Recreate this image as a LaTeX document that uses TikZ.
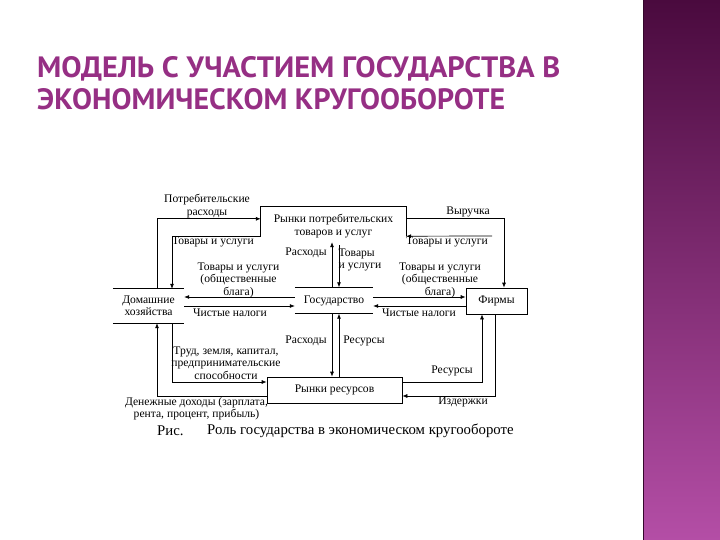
\documentclass[tikz,border=0pt]{standalone}
\usepackage{fontspec}
\usepackage{graphicx}
\setmainfont{Liberation Serif}
\newfontfamily\titlefont{PT Sans}
\usetikzlibrary{arrows.meta,calc}
\definecolor{titlecol}{HTML}{962F84}
\definecolor{barTop}{HTML}{4A0A3E}
\definecolor{barMid}{HTML}{7C2C6E}
\definecolor{barBot}{HTML}{B44EA6}
\begin{document}
\begin{tikzpicture}[x=1pt,y=-1pt,
  lbl/.style={font=\fontsize{11.6}{12.5}\selectfont, align=center, inner sep=0pt},
  ln/.style={line width=0.7pt},
  arr/.style={line width=0.7pt, -{Latex[length=5pt,width=4pt]}},
  openbox/.style={lbl, inner sep=0pt},
  closedbox/.style={lbl, draw, line width=0.7pt, inner sep=0pt}]
\useasboundingbox (0,0) rectangle (720,540);
\fill[white] (0,0) rectangle (720,540);
% side bar
\shade[top color=barTop, middle color=barMid, bottom color=barBot] (643,0) rectangle (720,540);
\draw[barTop!70!black, line width=1pt] (643.5,0) -- (643.5,540);
% title
\node[anchor=base west, inner sep=0pt, text=titlecol] (t1) at (37,78)
  {\resizebox{523pt}{21pt}{\titlefont\bfseries МОДЕЛЬ С УЧАСТИЕМ ГОСУДАРСТВА В}};
\node[anchor=base west, inner sep=0pt, text=titlecol] (t2) at (37,110)
  {\resizebox{468pt}{21pt}{\titlefont\bfseries ЭКОНОМИЧЕСКОМ КРУГООБОРОТЕ}};
% boxes
\node[openbox, minimum width=145pt, minimum height=29pt] (rpt) at (333.5,221.5) {};
\draw[ln] (rpt.south west) -- (rpt.north west) -- (rpt.north east) -- (rpt.south east);
\node[lbl] (rpttxt) at (333.5,226) {Рынки потребительских\\товаров и услуг};
\node[openbox, minimum width=71pt, minimum height=34pt] (dh) at (148.5,306) {Домашние\\хозяйства};
\draw[ln] (dh.north west) -- (dh.north east);
\draw[ln] (dh.south west) -- (dh.south east);
\node[openbox, minimum width=78pt, minimum height=26pt] (gos) at (334,300.5) {Государство};
\draw[ln] (gos.north west) -- (gos.north east);
\draw[ln] (gos.south west) -- (gos.south east);
\node[closedbox, minimum width=61pt, minimum height=26pt] (firm) at (496.5,301) {Фирмы};
\node[closedbox, minimum width=135pt, minimum height=26pt] (rr) at (334.5,390) {Рынки ресурсов};
% top loop
\draw[arr] ([xshift=8.5pt]dh.north) |- ([yshift=-12pt]rpt.north west);
\draw[arr] (rpt.south west) -| ([xshift=23.5pt]dh.north);
\draw[arr] ([yshift=-12pt]rpt.north east) -| ([xshift=7.5pt]firm.north);
\coordinate (tr) at (492,236);
\draw[arr] (tr) -- (rpt.south east);
% government verticals
\draw[arr] ([xshift=-2pt]gos.north) -- ([xshift=-1.5pt,yshift=-6pt]rpt.south);
\draw[arr] ([xshift=5.5pt,yshift=-9pt]rpt.south) -- ([xshift=5pt]gos.north);
\draw[arr] ([xshift=-2pt]gos.south) -- ([xshift=-2.5pt]rr.north);
\draw[arr] ([xshift=4.5pt]rr.north) -- ([xshift=5pt]gos.south);
% government horizontals
\coordinate (h1) at ([yshift=3.5pt]gos.west);
\coordinate (h2) at ([yshift=-5.5pt]gos.west);
\coordinate (h3) at ([yshift=3.5pt]gos.east);
\coordinate (h4) at ([yshift=-5.5pt]gos.east);
\draw[arr] (h1) -- (h1 -| dh.east);
\draw[arr] (h2 -| dh.east) -- (h2);
\draw[arr] (h3) -- (h3 -| firm.west);
\draw[arr] (h4 -| firm.west) -- (h4);
% bottom loop
\draw[arr] ([xshift=23.5pt]dh.south) |- ([yshift=8pt]rr.west);
\draw[arr] ([yshift=-6pt]rr.west) -| ([xshift=8.5pt]dh.south);
\draw[arr] ([yshift=8pt]rr.east) -| ([xshift=-14.5pt]firm.south);
\draw[arr] ([xshift=-1.5pt]firm.south) |- ([yshift=-6pt]rr.east);
% labels
\node[lbl] (l1) at (207,206) {Потребительские\\расходы};
\node[lbl] (l2) at (213,242) {Товары и услуги};
\node[lbl] (l3) at (468,212) {Выручка};
\node[lbl] (l4) at (447,242) {Товары и услуги};
\node[lbl] (l5) at (306,253) {Расходы};
\node[lbl, align=left] (l6) at (360,260) {Товары\\и услуги};
\node[lbl] (l7) at (238.5,280) {Товары и услуги\\(общественные\\блага)};
\node[lbl] (l8) at (440,280) {Товары и услуги\\(общественные\\блага)};
\node[lbl] (l9) at (230,313) {Чистые налоги};
\node[lbl] (l10) at (419,313) {Чистые налоги};
\node[lbl] (l11) at (306,341) {Расходы};
\node[lbl] (l12) at (364,341) {Ресурсы};
\node[lbl] (l13) at (226,363) {Труд, земля, капитал,\\предпринимательские\\способности};
\node[lbl] (l14) at (452,371) {Ресурсы};
\node[lbl] (l15) at (463,402) {Издержки};
\node[lbl] (l16) at (196.5,408.5) {Денежные доходы (зарплата,\\рента, процент, прибыль)};
\node[anchor=west, inner sep=0pt, font=\fontsize{14.8}{16}\selectfont] (cap1) at (157,431) {Рис.};
\node[anchor=west, inner sep=0pt, font=\fontsize{14.8}{16}\selectfont] (cap2) at (207,431) {Роль государства в экономическом кругообороте};
\end{tikzpicture}
\end{document}
